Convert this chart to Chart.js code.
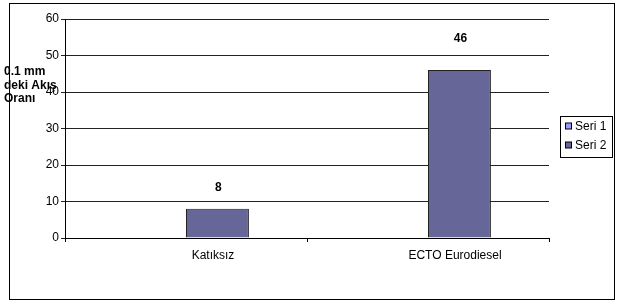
<!DOCTYPE html>
<html>
<head>
  <title>Akış Oranı</title>
  <script src="https://cdn.jsdelivr.net/npm/chart.js"></script>
  <style>
    body { background: #fff; margin: 0; padding: 0; }
    canvas { display: block; }
  </style>
</head>
<body>
  <canvas id="flowChart" width="623" height="304"></canvas>
  <script>
    // categories and series
    const categories = ['Katıksız', 'ECTO Eurodiesel'];
    const seri1 = [null, null];
    const seri2 = [8, 46];
    const yTitle = ['0.1 mm', 'deki Akış', 'Oranı'];

    const FONT = "'Liberation Sans', Arial, sans-serif";

    // frame, axis title, value labels and boxed legend
    const decorations = {
      id: 'decorations',
      afterDraw(chart) {
        const ctx = chart.ctx;
        ctx.save();
        ctx.strokeStyle = '#000';
        ctx.lineWidth = 1;
        ctx.strokeRect(9.5, 3.5, 605, 296);

        // y title, horizontal, over the tick labels
        ctx.fillStyle = '#000';
        ctx.font = 'bold 12px ' + FONT;
        ctx.textAlign = 'left';
        ctx.textBaseline = 'middle';
        yTitle.forEach((t, i) => ctx.fillText(t, 4, 72 + i * 13.5));

        // value labels above Seri 2 bars
        const lift = [21, 31];
        const meta = chart.getDatasetMeta(1);
        ctx.textAlign = 'center';
        meta.data.forEach((bar, i) => {
          const v = chart.data.datasets[1].data[i];
          if (v == null) return;
          ctx.fillText(String(v), bar.x + 1, bar.y - lift[i]);
        });

        // legend
        const lx = 560, ly = 116, lw = 52, lh = 41;
        ctx.strokeRect(lx + 0.5, ly + 0.5, lw, lh);
        ctx.font = '12px ' + FONT;
        ctx.textAlign = 'left';
        chart.data.datasets.forEach((ds, i) => {
          const cy = ly + 10.5 + i * 19;
          ctx.fillStyle = ds.backgroundColor;
          ctx.fillRect(lx + 5.5, cy - 3.5, 6, 6);
          ctx.strokeStyle = '#000';
          ctx.strokeRect(lx + 5.5, cy - 3.5, 6, 6);
          ctx.fillStyle = '#000';
          ctx.fillText(ds.label, lx + 15, cy);
        });
        ctx.restore();
      }
    };

    new Chart(document.getElementById('flowChart'), {
      type: 'bar',
      data: {
        labels: categories,
        datasets: [
          { label: 'Seri 1', data: seri1, backgroundColor: '#9999FF', borderColor: '#000', borderWidth: 1 },
          { label: 'Seri 2', data: seri2, backgroundColor: '#666699', borderColor: '#222', borderWidth: 1 }
        ]
      },
      options: {
        responsive: false,
        animation: false,
        events: [],
        layout: { padding: { left: 0, top: 19, right: 74, bottom: 0 } },
        datasets: { bar: { categoryPercentage: 0.52, barPercentage: 1 } },
        plugins: {
          legend: { display: false },
          tooltip: { enabled: false }
        },
        scales: {
          x: {
            grid: { offset: true, drawOnChartArea: false, drawTicks: true, tickLength: 4, color: '#000' },
            border: { display: true, color: '#000', width: 1 },
            ticks: { color: '#000', font: { family: FONT, size: 12 }, padding: 6, labelOffset: 27, maxRotation: 0 },
            afterFit(scale) { scale.height = 66; }
          },
          y: {
            min: 0,
            max: 60,
            ticks: { stepSize: 10, color: '#000', font: { family: FONT, size: 12 }, padding: 2 },
            grid: { color: '#222', tickLength: 4, drawTicks: true },
            border: { display: true, color: '#000', width: 1 },
            afterFit(scale) { scale.width = 65; }
          }
        }
      },
      plugins: [decorations]
    });
  </script>
</body>
</html>
